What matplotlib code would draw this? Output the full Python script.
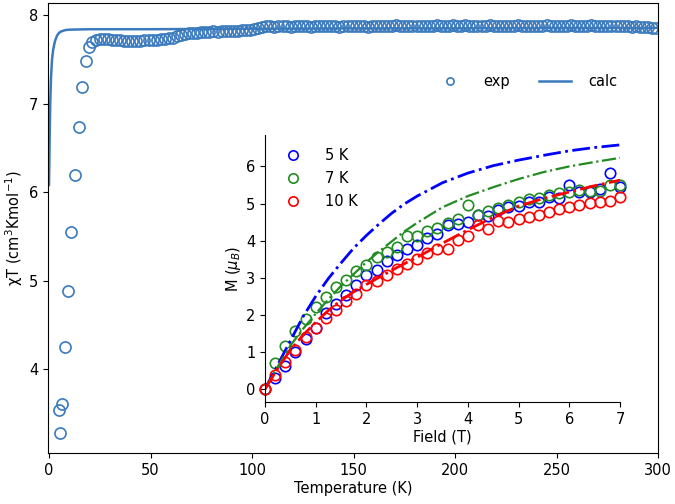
import numpy as np
import matplotlib
matplotlib.use("Agg")
import matplotlib.pyplot as plt

plt.rcParams['font.family'] = ['DejaVu Sans']
plt.rcParams['font.size'] = 10.5

# ---- main panel: chi*T vs T ----
T_low = [5.3, 4.9, 6.2, 8.0, 9.2, 11.0, 12.8, 14.8, 16.4, 18.3, 19.7]
chiT_low = [3.28, 3.54, 3.61, 4.25, 4.88, 5.55, 6.19, 6.74, 7.19, 7.48, 7.64]

T_high = list(range(21, 301, 2))
chiT_high = [
    7.70, 7.72, 7.73, 7.73, 7.73, 7.72, 7.72, 7.72, 7.71, 7.71,
    7.71, 7.71, 7.71, 7.72, 7.72, 7.72, 7.72, 7.73, 7.73, 7.74,
    7.74, 7.76, 7.78, 7.79, 7.80, 7.80, 7.80, 7.81, 7.81, 7.81,
    7.82, 7.81, 7.82, 7.82, 7.82, 7.82, 7.82, 7.83, 7.83, 7.83,
    7.84, 7.85, 7.87, 7.88, 7.88, 7.87, 7.88, 7.88, 7.88, 7.87,
    7.88, 7.88, 7.88, 7.88, 7.87, 7.88, 7.88, 7.88, 7.88, 7.88,
    7.88, 7.87, 7.88, 7.88, 7.88, 7.88, 7.88, 7.88, 7.87, 7.88,
    7.88, 7.88, 7.88, 7.88, 7.88, 7.89, 7.88, 7.88, 7.88, 7.88,
    7.88, 7.88, 7.88, 7.88, 7.88, 7.89, 7.88, 7.88, 7.88, 7.89,
    7.88, 7.88, 7.89, 7.88, 7.88, 7.88, 7.88, 7.88, 7.89, 7.88,
    7.88, 7.88, 7.88, 7.88, 7.88, 7.89, 7.88, 7.88, 7.88, 7.88,
    7.88, 7.88, 7.89, 7.88, 7.88, 7.88, 7.88, 7.88, 7.89, 7.88,
    7.88, 7.88, 7.88, 7.89, 7.88, 7.88, 7.88, 7.88, 7.88, 7.88,
    7.88, 7.88, 7.88, 7.87, 7.88, 7.87, 7.87, 7.86, 7.85, 7.85,
]

T_calc = [0, 0.3, 0.6, 1.0, 1.5, 2, 2.5, 3, 4, 5, 6, 8, 10, 20, 50, 100, 150, 200, 250, 300]
chiT_calc = [6.08, 6.6, 7.0, 7.3, 7.5, 7.6, 7.66, 7.71, 7.77, 7.80, 7.815, 7.83, 7.835,
             7.84, 7.84, 7.845, 7.85, 7.85, 7.855, 7.855]

# ---- inset: M vs H ----
H = [0.0, 0.2, 0.4, 0.6, 0.8, 1.0, 1.2, 1.4, 1.6, 1.8, 2.0, 2.2, 2.4, 2.6, 2.8, 3.0,
     3.2, 3.4, 3.6, 3.8, 4.0, 4.2, 4.4, 4.6, 4.8, 5.0, 5.2, 5.4, 5.6, 5.8, 6.0, 6.2,
     6.4, 6.6, 6.8, 7.0]
M_5K = [0.0, 0.31, 0.63, 0.99, 1.35, 1.64, 2.04, 2.29, 2.54, 2.81, 3.06, 3.22, 3.44,
        3.60, 3.78, 3.89, 4.07, 4.18, 4.42, 4.45, 4.50, 4.69, 4.66, 4.83, 4.90, 4.93,
        5.05, 5.05, 5.17, 5.14, 5.50, 5.31, 5.32, 5.40, 5.83, 5.44]
M_7K = [0.0, 0.69, 1.15, 1.56, 1.89, 2.22, 2.49, 2.74, 2.95, 3.17, 3.35, 3.55, 3.69,
        3.83, 4.12, 4.12, 4.25, 4.35, 4.47, 4.57, 4.95, 4.69, 4.80, 4.89, 4.96, 5.04,
        5.11, 5.15, 5.22, 5.29, 5.31, 5.36, 5.35, 5.35, 5.50, 5.50]
M_10K = [0.0, 0.38, 0.74, 1.06, 1.39, 1.64, 1.91, 2.13, 2.36, 2.56, 2.79, 2.90, 3.08,
         3.24, 3.37, 3.51, 3.66, 3.78, 3.78, 4.02, 4.12, 4.41, 4.32, 4.54, 4.50, 4.57,
         4.63, 4.69, 4.77, 4.84, 4.90, 4.96, 5.02, 5.05, 5.08, 5.17]

H_calc = [0, 0.25, 0.5, 0.75, 1.0, 1.25, 1.5, 1.75, 2.0, 2.25, 2.5, 2.75, 3.0,
          3.5, 4.0, 4.5, 5.0, 5.5, 6.0, 6.5, 7.0]
Mc_5K = [0, 0.65, 1.3, 1.95, 2.5, 2.98, 3.4, 3.8, 4.14, 4.45, 4.74, 4.99, 5.2,
         5.56, 5.82, 6.02, 6.17, 6.3, 6.42, 6.51, 6.58]
Mc_7K = [0, 0.6, 1.17, 1.62, 2.03, 2.42, 2.78, 3.1, 3.42, 3.71, 3.98, 4.25, 4.48,
         4.9, 5.2, 5.44, 5.66, 5.85, 6.0, 6.12, 6.23]
Mc_10K = [0, 0.55, 1.05, 1.45, 1.8, 2.12, 2.39, 2.62, 2.82, 3.01, 3.2, 3.38, 3.55,
          3.93, 4.29, 4.63, 4.93, 5.14, 5.31, 5.48, 5.63]

main_color = '#3a7abd'
green = '#228b22'

fig = plt.figure(figsize=(6.75, 5.04), dpi=100)
ax = fig.add_axes([0.0711, 0.101, 0.904, 0.8937])

ax.plot(T_low + T_high, chiT_low + chiT_high, 'o', mfc='none', mec=main_color,
        ms=8, mew=1.2, label='exp')
ax.plot(T_calc, chiT_calc, '-', color=main_color, lw=1.8, label='calc')
ax.set_xlim(-0.5, 300)
ax.set_ylim(3.05, 8.14)
ax.set_yticks([4, 5, 6, 7, 8])
ax.set_xticks([0, 50, 100, 150, 200, 250, 300])
ax.set_xlabel('Temperature (K)', labelpad=2)
ax.set_ylabel('χT (cm$^3$Kmol$^{-1}$)', labelpad=3)
ax.legend(loc='center right', bbox_to_anchor=(0.955, 0.825), ncol=2, frameon=False,
          markerscale=0.65, handlelength=2.2, columnspacing=2.0, handletextpad=1.2)

ax2 = fig.add_axes([0.3926, 0.2024, 0.526, 0.53])
ax2.patch.set_alpha(0)
for s in ['top', 'right']:
    ax2.spines[s].set_visible(False)
ax2.plot(H, M_5K, 'o', mfc='none', mec='blue', ms=7.5, mew=1.2, label='5 K', clip_on=False)
ax2.plot(H, M_7K, 'o', mfc='none', mec=green, ms=7.5, mew=1.2, label='7 K', clip_on=False)
ax2.plot(H, M_10K, 'o', mfc='none', mec='red', ms=7.5, mew=1.2, label='10 K', clip_on=False)
ax2.plot(H_calc, Mc_5K, '-.', color='blue', lw=2.0)
ax2.plot(H_calc, Mc_7K, '-.', color=green, lw=1.6)
ax2.plot(H_calc, Mc_10K, '-.', color='red', lw=2.0)
ax2.set_xlim(0, 7)
ax2.set_ylim(-0.35, 6.85)
ax2.set_yticks([0, 1, 2, 3, 4, 5, 6])
ax2.set_xticks([0, 1, 2, 3, 4, 5, 6, 7])
ax2.set_xlabel('Field (T)', labelpad=2)
ax2.set_ylabel(r'M ($\mu_B$)', labelpad=2)
ax2.legend(loc='upper left', bbox_to_anchor=(0.0, 1.0), frameon=False,
           markerscale=0.9, handletextpad=1.2, labelspacing=0.55)

fig.savefig('out.png', dpi=100)
